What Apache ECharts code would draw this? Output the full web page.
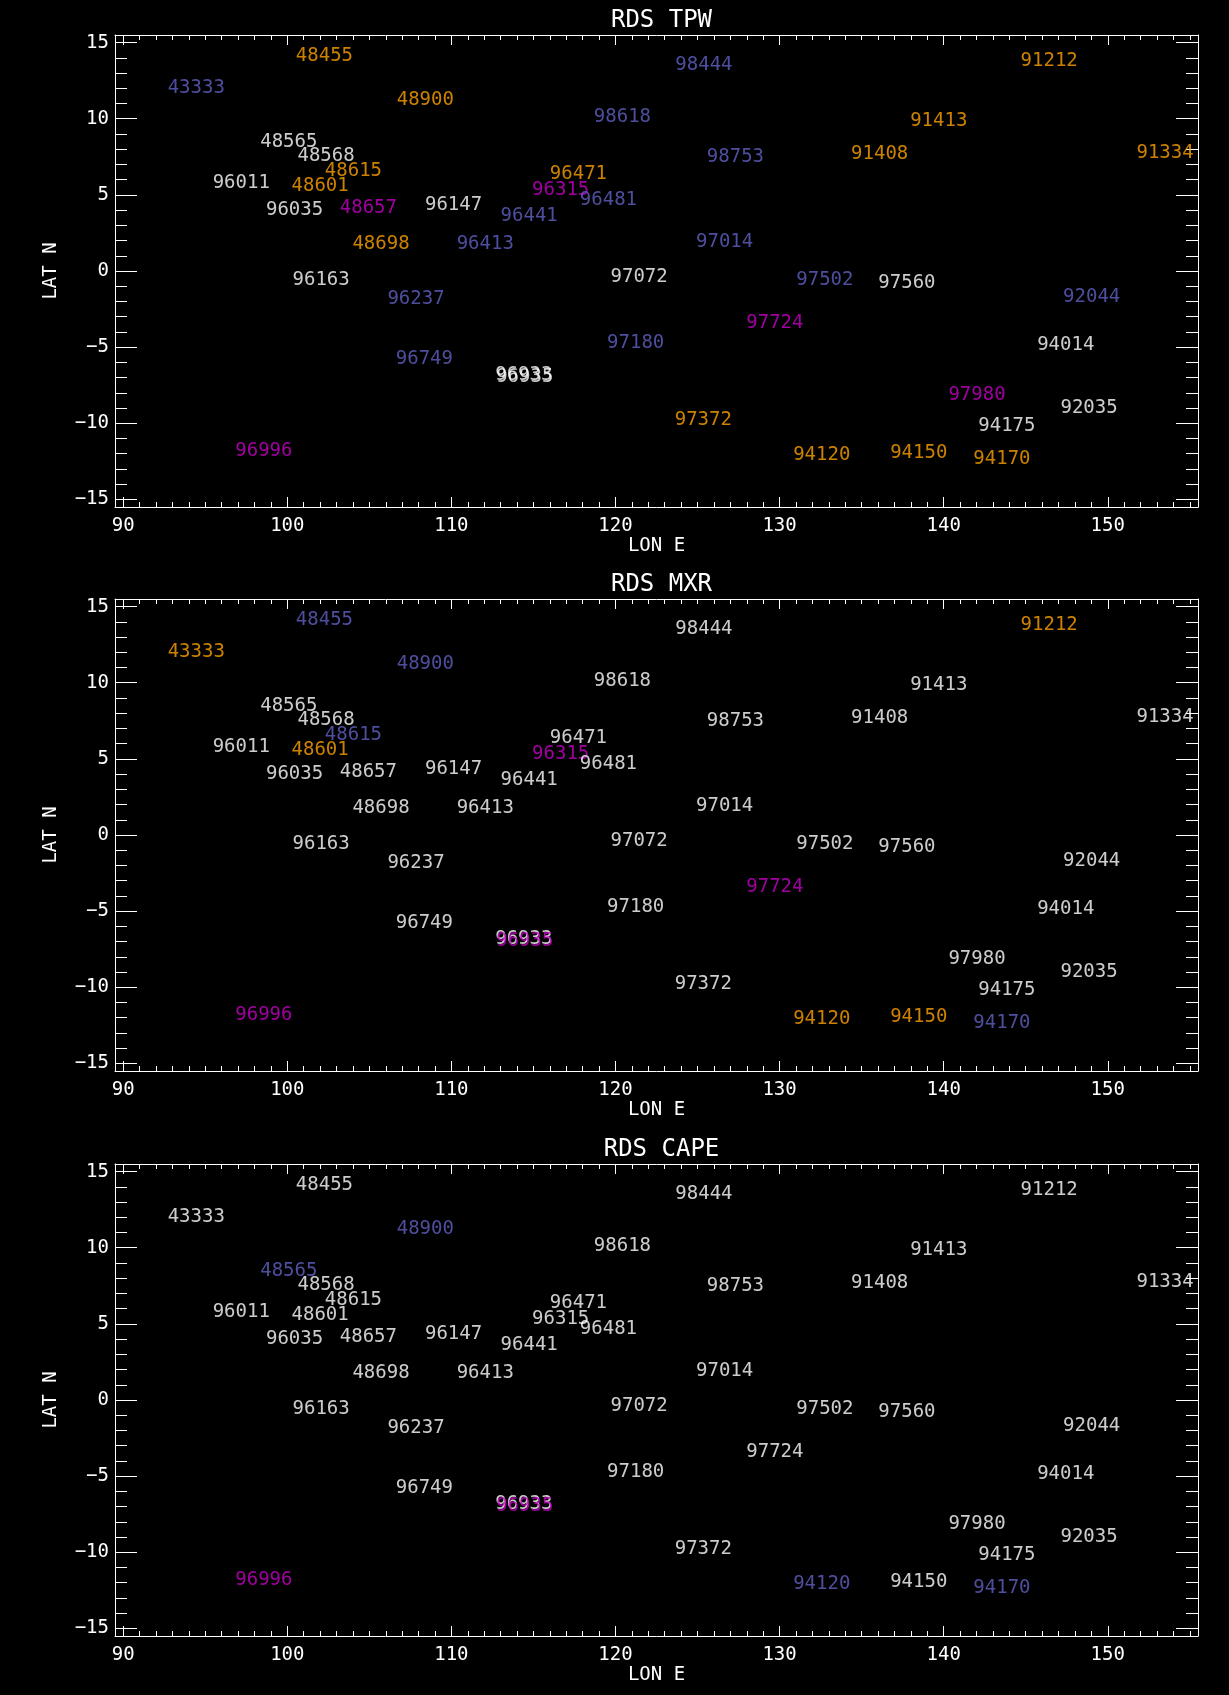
<!DOCTYPE html>
<html>
<head>
<meta charset="utf-8">
<title>RDS station maps</title>
<script src="https://cdn.jsdelivr.net/npm/echarts@6/dist/echarts.min.js"></script>
<style>
  html, body { margin: 0; padding: 0; background: #000; }
  #chart { width: 1229px; height: 1695px; }
</style>
</head>
<body>
<div id="chart"></div>
<script>
// Station identifiers and their positions (degrees E, degrees N)
const stations = [
  '43333', '48455', '48900', '48565', '48568', '48615', '96011', '48601', '96035',
  '48657', '48698', '96163', '98444', '98618', '98753', '96471', '96315', '96481',
  '96147', '96441', '96413', '97014', '97072', '91212', '91413', '91408', '91334',
  '97502', '97560', '96237', '96749', '96996', '97724', '97180', '96933', '96935',
  '97372', '94120', '92044', '94014', '97980', '92035', '94175', '94150', '94170'
];
const lons = [
  92.74, 100.55, 106.70, 98.38, 100.65, 102.32, 95.48, 100.29, 98.73,
  103.23, 104.00, 100.35, 123.68, 118.71, 125.60, 116.03, 114.95, 117.86,
  108.42, 113.03, 110.35, 124.94, 119.73, 144.72, 137.99, 134.39, 151.78,
  131.05, 136.05, 106.13, 106.64, 96.86, 128.00, 119.52, 112.70, 112.76,
  123.64, 130.86, 147.31, 145.73, 140.32, 147.15, 142.14, 136.77, 141.84
];
const lats = [
  11.64, 13.70, 10.83, 8.05, 7.17, 6.16, 5.41, 5.20, 3.59,
  3.77, 1.36, -0.97, 13.13, 9.69, 7.10, 5.94, 4.91, 4.25,
  3.92, 3.20, 1.40, 1.51, -0.79, 13.40, 9.45, 7.26, 7.37,
  -0.97, -1.18, -2.22, -6.16, -12.24, -3.80, -5.11, -7.22, -7.37,
  -10.16, -12.48, -2.10, -5.29, -8.51, -9.41, -10.59, -12.37, -12.74
];

// Per-station class in each product (W, B, O, M), same order as stations
const tpwClass = [
  'B', 'O', 'O', 'W', 'W', 'O', 'W', 'O', 'W',
  'M', 'O', 'W', 'B', 'B', 'B', 'O', 'M', 'B',
  'W', 'B', 'B', 'B', 'W', 'O', 'O', 'O', 'O',
  'B', 'W', 'B', 'B', 'M', 'M', 'B', 'W', 'W',
  'O', 'O', 'B', 'W', 'M', 'W', 'W', 'O', 'O'
];
const mxrClass = [
  'O', 'B', 'B', 'W', 'W', 'B', 'W', 'O', 'W',
  'W', 'W', 'W', 'W', 'W', 'W', 'W', 'M', 'W',
  'W', 'W', 'W', 'W', 'W', 'O', 'W', 'W', 'W',
  'W', 'W', 'W', 'W', 'M', 'M', 'W', 'W', 'M',
  'W', 'O', 'W', 'W', 'W', 'W', 'W', 'O', 'B'
];
const capeClass = [
  'W', 'W', 'B', 'B', 'W', 'W', 'W', 'W', 'W',
  'W', 'W', 'W', 'W', 'W', 'W', 'W', 'W', 'W',
  'W', 'W', 'W', 'W', 'W', 'W', 'W', 'W', 'W',
  'W', 'W', 'W', 'W', 'M', 'W', 'W', 'W', 'M',
  'W', 'B', 'W', 'W', 'W', 'W', 'W', 'W', 'B'
];

const panelTitles = ['RDS TPW', 'RDS MXR', 'RDS CAPE'];
const panelClasses = [tpwClass, mxrClass, capeClass];

// Axis ticks
const xMajorTicks = [90, 100, 110, 120, 130, 140, 150];
const xMinorTicks = [];
for (let v = 90; v <= 155; v++) xMinorTicks.push(v);
const yMajorTicks = [-15, -10, -5, 0, 5, 10, 15];
const yMinorTicks = [];
for (let v = -15; v <= 15; v++) yMinorTicks.push(v);

const CLASS_COLORS = { W: '#ffffff', B: '#6262c6', O: '#ffa200', M: '#c800c8' };
const FONT = '"DejaVu Sans Mono", monospace';
const FG = '#ffffff';

const GRID_LEFT = 115, GRID_W = 1083, GRID_H = 472;
const GRID_TOPS = [35, 599, 1164];
const X_RANGE = [89.5, 155.5];
const Y_RANGE = [-15.5, 15.5];

const lineStyle = { color: FG, width: 1 };
const textStyle = { color: FG, fontFamily: FONT, fontSize: 19 };

function makeXAxes(g) {
  const base = { gridIndex: g, type: 'value', min: X_RANGE[0], max: X_RANGE[1], splitLine: { show: false } };
  return [
    Object.assign({}, base, {
      position: 'bottom',
      axisLine: { show: true, onZero: false, lineStyle },
      axisTick: { show: true, inside: true, length: 10, customValues: xMajorTicks, lineStyle },
      axisLabel: Object.assign({ show: true, customValues: xMajorTicks, margin: 10 }, textStyle),
      name: 'LON E', nameLocation: 'middle', nameGap: 30, nameTextStyle: textStyle
    }),
    Object.assign({}, base, {
      position: 'bottom',
      axisLine: { show: false, onZero: false },
      axisTick: { show: true, inside: true, length: 5, customValues: xMinorTicks, lineStyle },
      axisLabel: { show: false }
    }),
    Object.assign({}, base, {
      position: 'top',
      axisLine: { show: true, onZero: false, lineStyle },
      axisTick: { show: true, inside: true, length: 10, customValues: xMajorTicks, lineStyle },
      axisLabel: { show: false }
    }),
    Object.assign({}, base, {
      position: 'top',
      axisLine: { show: false, onZero: false },
      axisTick: { show: true, inside: true, length: 5, customValues: xMinorTicks, lineStyle },
      axisLabel: { show: false }
    })
  ];
}

function makeYAxes(g) {
  const base = { gridIndex: g, type: 'value', min: Y_RANGE[0], max: Y_RANGE[1], splitLine: { show: false } };
  return [
    Object.assign({}, base, {
      position: 'left',
      axisLine: { show: true, onZero: false, lineStyle },
      axisTick: { show: true, inside: true, length: 22, customValues: yMajorTicks, lineStyle },
      axisLabel: Object.assign({
        show: true, customValues: yMajorTicks, margin: 6,
        formatter: v => String(v).replace('-', '\u2212')
      }, textStyle),
      name: 'LAT N', nameLocation: 'middle', nameGap: 54, nameTextStyle: textStyle
    }),
    Object.assign({}, base, {
      position: 'left',
      axisLine: { show: false, onZero: false },
      axisTick: { show: true, inside: true, length: 12, customValues: yMinorTicks, lineStyle },
      axisLabel: { show: false }
    }),
    Object.assign({}, base, {
      position: 'right',
      axisLine: { show: true, onZero: false, lineStyle },
      axisTick: { show: true, inside: true, length: 22, customValues: yMajorTicks, lineStyle },
      axisLabel: { show: false }
    }),
    Object.assign({}, base, {
      position: 'right',
      axisLine: { show: false, onZero: false },
      axisTick: { show: true, inside: true, length: 12, customValues: yMinorTicks, lineStyle },
      axisLabel: { show: false }
    })
  ];
}

const grids = [], xAxes = [], yAxes = [], titles = [], series = [];
GRID_TOPS.forEach((top, g) => {
  grids.push({ left: GRID_LEFT, top: top, width: GRID_W, height: GRID_H, containLabel: false, outerBoundsMode: 'none' });
  xAxes.push(...makeXAxes(g));
  yAxes.push(...makeYAxes(g));
  titles.push({
    text: panelTitles[g], left: GRID_LEFT + GRID_W / 2, top: top - 31, textAlign: 'center',
    textStyle: { color: FG, fontFamily: FONT, fontSize: 24, fontWeight: 'normal' }
  });
  const cls = panelClasses[g];
  series.push({
    type: 'scatter',
    xAxisIndex: g * 4,
    yAxisIndex: g * 4,
    symbolSize: 1,
    itemStyle: { color: 'transparent' },
    silent: true,
    emphasis: { disabled: true },
    label: {
      show: true, position: [0, 0], align: 'left', verticalAlign: 'bottom',
      offset: [0, 4], formatter: '{b}', fontFamily: FONT, fontSize: 19
    },
    data: stations.map((id, i) => ({
      name: id,
      value: [lons[i], lats[i]],
      label: { color: CLASS_COLORS[cls[i]] }
    }))
  });
});

const chart = echarts.init(document.getElementById('chart'), null, { renderer: 'canvas' });
chart.setOption({
  backgroundColor: '#000000',
  animation: false,
  title: titles,
  grid: grids,
  xAxis: xAxes,
  yAxis: yAxes,
  series: series
});
</script>
</body>
</html>
